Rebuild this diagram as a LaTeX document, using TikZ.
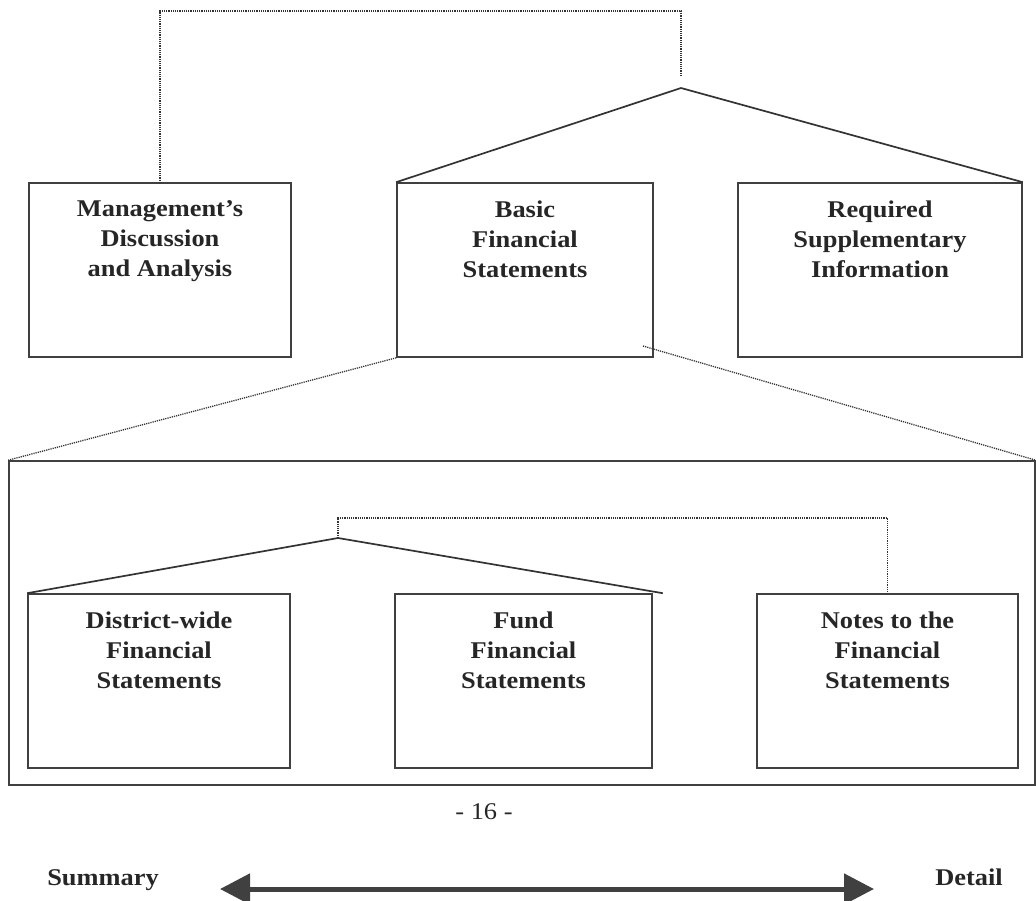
\documentclass[tikz,border=0pt]{standalone}
\usepackage{fontspec}
\setmainfont{Liberation Serif}[FakeStretch=1.1]
\usetikzlibrary{arrows.meta,positioning}

\begin{document}
\begin{tikzpicture}[x=1pt, y=-1pt,
    box/.style={draw=black!75, line width=1.6pt, minimum height=174pt, inner sep=0pt},
    boxlabel/.style={anchor=north, yshift=-18pt, inner sep=0pt, align=center,
      font=\bfseries\fontsize{24}{30}\selectfont, text=black!85},
    roof/.style={draw=black!80, line width=1.7pt},
    dots/.style={draw=black!80, line width=1.3pt, dash pattern=on 1.2pt off 1pt}]
    \useasboundingbox (0,0) rectangle (1036,900);

    % top level
    \node[box, minimum width=262pt, label={[boxlabel]north:Management's\\Discussion\\and Analysis}] (mda) at (160,270) {};
    \node[box, minimum width=256pt, label={[boxlabel]north:Basic\\Financial\\Statements}] (bfs) at (525,270) {};
    \node[box, minimum width=284pt, label={[boxlabel]north:Required\\Supplementary\\Information}] (rsi) at (880,270) {};
    \coordinate (top) at (681,88);
    \coordinate (topdot) at (681,76);
    \draw[roof] (bfs.north west) -- (top) -- (rsi.north east);
    \draw[dots] (topdot) -- (681,11) -| (mda.north);

    % basic statements, opened up
    \node[draw=black!75, line width=1.6pt, minimum width=1026pt, minimum height=324pt, inner sep=0pt] (big) at (522,623) {};
    \coordinate (bfsr) at (643,346);
    \draw[dots] (bfs.south west) -- (big.north west);
    \draw[dots] (bfsr) -- (big.north east);

    \node[box, minimum width=262pt, label={[boxlabel]north:District-wide\\Financial\\Statements}] (dfs) at (159,681) {};
    \node[box, minimum width=257pt, label={[boxlabel]north:Fund\\Financial\\Statements}] (ffs) at (523.5,681) {};
    \node[box, minimum width=261pt, label={[boxlabel]north:Notes to the\\Financial\\Statements}] (nfs) at (887.5,681) {};
    \coordinate (low) at (338,538);
    \draw[roof] (dfs.north west) -- (low) -- ([xshift=10pt]ffs.north east);
    \draw[dots] (low) -- (338,518) -| (nfs.north);

    % page number and scale
    \node[anchor=base, inner sep=0pt, font=\fontsize{24}{28}\selectfont, text=black!85] (page) at (484,819) {- 16 -};
    \node[anchor=base, inner sep=0pt, font=\bfseries\fontsize{24}{28}\selectfont, text=black!85] (sum) at (103,885) {Summary};
    \node[anchor=base, inner sep=0pt, font=\bfseries\fontsize{24}{28}\selectfont, text=black!85] (det) at (969,885) {Detail};
    \coordinate (al) at (220,889);
    \coordinate (ar) at (874,889);
    \draw[black!75, line width=5pt, {Triangle[length=30pt,width=30pt]}-{Triangle[length=30pt,width=30pt]}] (al) -- (ar);
\end{tikzpicture}
\end{document}
